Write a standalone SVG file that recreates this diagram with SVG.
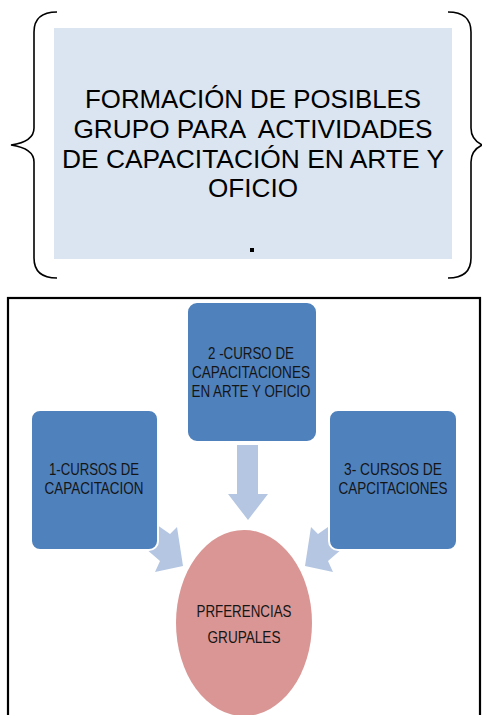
<svg xmlns="http://www.w3.org/2000/svg" width="482" height="715" viewBox="0 0 482 715">
<style>
.brace{fill:none;stroke:#000;stroke-width:1.6}
.t1{font-family:"Liberation Sans",Arial,sans-serif;font-size:25px;fill:#000;text-anchor:middle;white-space:pre}
.box{fill:#4f81bd;stroke:#fff;stroke-width:2}
.arr{fill:#b4c6e2}
.t2{font-family:"Liberation Sans",Arial,sans-serif;font-size:17px;fill:#151515;text-anchor:middle}
</style>
<rect width="482" height="715" fill="#fff"/>
<g id="title">
<rect x="54" y="28" width="398" height="231" fill="#dbe5f1"/>
<text class="t1" x="253" y="108" textLength="336" lengthAdjust="spacingAndGlyphs">FORMACIÓN DE POSIBLES</text>
<text class="t1" x="253" y="138" textLength="359" lengthAdjust="spacingAndGlyphs" xml:space="preserve">GRUPO PARA  ACTIVIDADES</text>
<text class="t1" x="253" y="168" textLength="382" lengthAdjust="spacingAndGlyphs">DE CAPACITACIÓN EN ARTE Y</text>
<text class="t1" x="253" y="197" textLength="90" lengthAdjust="spacingAndGlyphs">OFICIO</text>
<rect x="250" y="248" width="4" height="4" fill="#000"/>
</g>
<g id="braces">
<path class="brace" d="M57,12 C42,12 34,18 34,32 L34,128 C34,138 25,143 11,145 C25,147 34,152 34,162 L34,258 C34,272 42,278 57,278"/>
<path class="brace" d="M448,12 C463,12 471,18 471,32 L471,128 C471,138 478,143 482,145 C478,147 471,152 471,162 L471,258 C471,272 463,278 448,278"/>
</g>
<rect x="8" y="298" width="472" height="420" fill="none" stroke="#000" stroke-width="2.2"/>
<g id="connectors">
<polygon class="arr" points="237,445 258,445 258,494 268,494 248,520 228,494 237,494"/>
<polygon class="arr" points="150,520 170,534 177,527 183,566 155,572 160,561 145,548"/>
<polygon class="arr" points="338,520 318,534 311,527 305,566 333,572 328,561 343,548"/>
</g>
<g id="n2">
<rect class="box" x="187" y="302" width="130" height="140" rx="10"/>
<text class="t2" x="251" y="359" textLength="86" lengthAdjust="spacingAndGlyphs">2 -CURSO DE</text>
<text class="t2" x="251" y="378" textLength="118" lengthAdjust="spacingAndGlyphs">CAPACITACIONES</text>
<text class="t2" x="251" y="397" textLength="119" lengthAdjust="spacingAndGlyphs">EN ARTE Y OFICIO</text>
</g>
<g id="n1">
<rect class="box" x="31" y="410" width="127" height="140" rx="9"/>
<text class="t2" x="94" y="475" textLength="90" lengthAdjust="spacingAndGlyphs">1-CURSOS DE</text>
<text class="t2" x="94" y="494" textLength="99" lengthAdjust="spacingAndGlyphs">CAPACITACION</text>
</g>
<g id="n3">
<rect class="box" x="329" y="410" width="128" height="140" rx="9"/>
<text class="t2" x="393" y="475" textLength="98" lengthAdjust="spacingAndGlyphs">3- CURSOS DE</text>
<text class="t2" x="393" y="494" textLength="109" lengthAdjust="spacingAndGlyphs">CAPCITACIONES</text>
</g>
<g id="n4">
<ellipse cx="244" cy="623" rx="68" ry="93" fill="#d99694"/>
<text class="t2" x="244" y="617" textLength="95" lengthAdjust="spacingAndGlyphs">PRFERENCIAS</text>
<text class="t2" x="244" y="643" textLength="73" lengthAdjust="spacingAndGlyphs">GRUPALES</text>
</g>
</svg>
